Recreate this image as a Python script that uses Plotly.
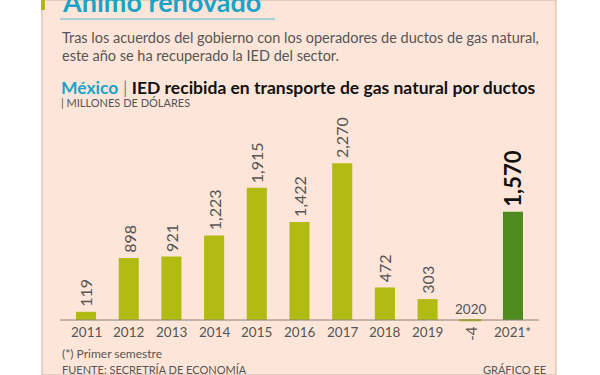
import plotly.graph_objects as go

years = ["2011", "2012", "2013", "2014", "2015", "2016", "2017", "2018", "2019", "2020", "2021*"]
values = [119, 898, 921, 1223, 1915, 1422, 2270, 472, 303, -4, 1570]
value_labels = ["119", "898", "921", "1,223", "1,915", "1,422", "2,270", "472", "303", "-4", "1,570"]

BG = "#fde6d9"
LIGHT = "#b2bb12"
DARK = "#4f8a1e"
GRAY = "#555555"
CYAN = "#1aa3c8"
FONT = "Lato"

idx = list(range(len(years)))
colors = [DARK if y.endswith("*") else LIGHT for y in years]
line_w = [2 if v < 0 else 0 for v in values]

fig = go.Figure()
fig.add_trace(go.Bar(
    x=idx, y=values, width=0.47,
    marker=dict(color=colors, line=dict(color=colors, width=line_w)),
    hoverinfo="skip",
))

# panel background and borders
fig.add_shape(type="rect", xref="paper", yref="paper", x0=42/600, x1=556/600, y0=0, y1=1,
              fillcolor=BG, line=dict(color="#cdb3a3", width=1), layer="below")
fig.add_shape(type="rect", xref="paper", yref="paper", x0=41/600, x1=45/600, y0=1-10/375, y1=1,
              fillcolor="#b5b514", line=dict(width=0), layer="below")
fig.add_shape(type="line", xref="paper", yref="paper", x0=60/600, x1=275/600, y0=1-19/375, y1=1-19/375,
              line=dict(color="#a9d3da", width=2))
# baseline
fig.add_shape(type="line", xref="x domain", yref="y", x0=0, x1=1, y0=0, y1=0,
              line=dict(color="#8c8078", width=1))

ann = []
for i, (y, v, lab) in enumerate(zip(years, values, value_labels)):
    last = y.endswith("*")
    if v >= 0:
        ann.append(dict(x=i, y=v, xref="x", yref="y", text=f"<b>{lab}</b>" if last else lab,
                        textangle=-90, showarrow=False, xanchor="center", yanchor="bottom", yshift=3,
                        font=dict(family=FONT, size=22 if last else 16, color="#111111" if last else GRAY)))
        ann.append(dict(x=i, y=0, xref="x", yref="y", text=y, showarrow=False,
                        xanchor="center", yanchor="top", yshift=-2,
                        font=dict(family=FONT, size=13.5, color=GRAY)))
    else:
        ann.append(dict(x=i, y=0, xref="x", yref="y", text=lab, textangle=-90, showarrow=False,
                        xanchor="center", yanchor="top", yshift=-4,
                        font=dict(family=FONT, size=15, color=GRAY)))
        ann.append(dict(x=i, y=0, xref="x", yref="y", text=y, showarrow=False,
                        xanchor="center", yanchor="bottom", yshift=1,
                        font=dict(family=FONT, size=13.5, color=GRAY)))

def txt(x, y, text, size, color, bold=False, xanchor="left"):
    return dict(x=x/600, y=1-y/375, xref="paper", yref="paper", text=f"<b>{text}</b>" if bold else text,
                showarrow=False, xanchor=xanchor, yanchor="middle",
                font=dict(family=FONT, size=size, color=color))

ann += [
    dict(x=60/600, y=1-2/375, xref="paper", yref="paper", text="<b>Ánimo renovado</b>", showarrow=False,
         xanchor="left", yanchor="middle", font=dict(family=FONT, size=27, color=CYAN)),
    txt(60, 38, "Tras los acuerdos del gobierno con los operadores de ductos de gas natural,", 14.5, GRAY),
    txt(60, 55, "este año se ha recuperado la IED del sector.", 14.5, GRAY),
    txt(59, 87, "<b><span style='color:%s'>México</span></b> <span style='color:#888'>|</span> <b>IED recibida en transporte de gas natural por ductos</b>" % CYAN, 17.5, "#111111"),
    txt(59, 103, "| MILLONES DE DÓLARES", 11, GRAY),
    txt(60, 353, "(*) Primer semestre", 12, GRAY),
    txt(60, 369, "FUENTE: SECRETRÍA DE ECONOMÍA", 11, GRAY),
    txt(548, 369, "GRÁFICO EE", 11, GRAY, xanchor="right"),
]

fig.update_layout(
    width=600, height=375,
    margin=dict(l=0, r=0, t=0, b=0),
    paper_bgcolor="white", plot_bgcolor="rgba(0,0,0,0)",
    showlegend=False,
    annotations=ann,
    xaxis=dict(domain=[60/600, 539/600], range=[-0.61, 10.61], visible=False, fixedrange=True),
    yaxis=dict(domain=[1-345/375, 1-115/375], range=[-362, 2971], visible=False, fixedrange=True),
)

fig.write_html("out.html", config={"displayModeBar": False},
               post_script="document.body.style.margin='0';document.body.style.overflow='hidden';")
